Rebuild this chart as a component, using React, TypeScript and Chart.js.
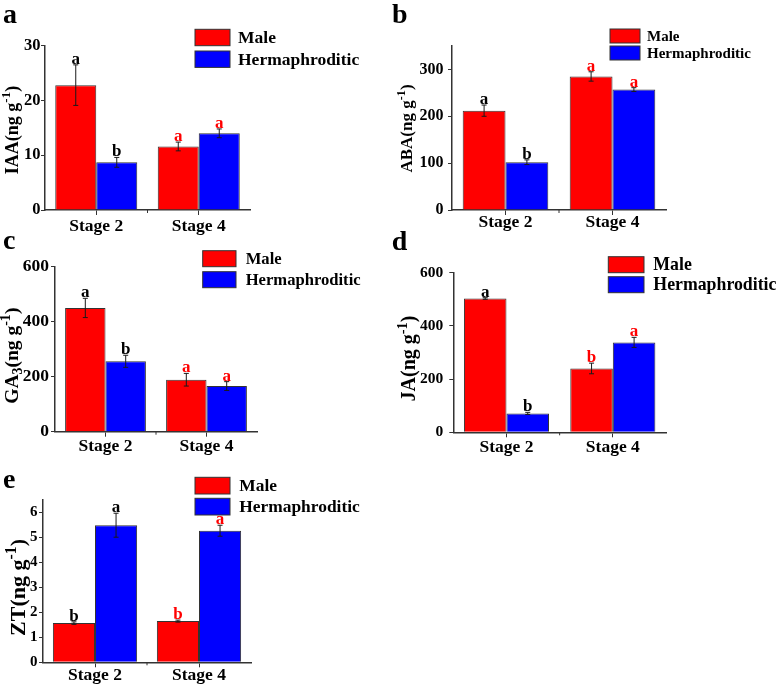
import React, { useEffect, useRef } from "react";
import { Chart, registerables } from "chart.js";

Chart.register(...registerables);

const FONT = '"Liberation Serif", "Times New Roman", serif';

const categories = ["Stage 2", "Stage 4"];
const seriesNames = ["Male", "Hermaphroditic"];
const seriesColors = ["#ff0000", "#0000ff"];
const letterColors = ["#000000", "#ff0000"];

// a: IAA
const iaaMale = [22.8, 11.6];
const iaaHerm = [8.7, 14.0];
const iaaMaleErr = [3.7, 0.8];
const iaaHermErr = [0.9, 0.8];
const iaaMaleLetters = ["a", "a"];
const iaaHermLetters = ["b", "a"];
const iaaTicks = [0, 10, 20, 30];

// b: ABA
const abaMale = [212, 285];
const abaHerm = [102, 257];
const abaMaleErr = [12, 10];
const abaHermErr = [5, 4];
const abaMaleLetters = ["a", "a"];
const abaHermLetters = ["b", "a"];
const abaTicks = [0, 100, 200, 300];

// c: GA3
const gaMale = [450, 189];
const gaHerm = [256, 166];
const gaMaleErr = [35, 23];
const gaHermErr = [22, 16];
const gaMaleLetters = ["a", "a"];
const gaHermLetters = ["b", "a"];
const gaTicks = [0, 200, 400, 600];

// d: JA
const jaMale = [503, 240];
const jaHerm = [71, 338];
const jaMaleErr = [3, 20];
const jaHermErr = [4, 19];
const jaMaleLetters = ["a", "b"];
const jaHermLetters = ["b", "a"];
const jaTicks = [0, 200, 400, 600];

// e: ZT
const ztMale = [1.57, 1.65];
const ztHerm = [5.49, 5.27];
const ztMaleErr = [0.05, 0.04];
const ztHermErr = [0.48, 0.22];
const ztMaleLetters = ["b", "b"];
const ztHermLetters = ["a", "a"];
const ztTicks = [0, 1, 2, 3, 4, 5, 6];

type Part = [string, string];

const panels = [
  {
    letter: "a", male: iaaMale, herm: iaaHerm, errs: [iaaMaleErr, iaaHermErr],
    letters: [iaaMaleLetters, iaaHermLetters], ticks: iaaTicks, max: 30,
    title: [["IAA(ng g", ""], ["-1", "sup"], [")", ""]] as Part[],
    box: { x: 0, y: 0, w: 390, h: 242 }, area: { l: 45, t: 45.7, r: 250, b: 210 },
    tickFont: 16.5, yPad: 0.5, xFont: 17.5, xPad: 1, titleFont: 18, titleX: 18, titleY: 130,
    legend: { x: 195, y: 29.3, w: 35, h: 16.4, step: 21.7, tx: 238, font: 17.5 },
    letterPos: { x: 3, y: 23 }, catPct: 0.8,
  },
  {
    letter: "b", male: abaMale, herm: abaHerm, errs: [abaMaleErr, abaHermErr],
    letters: [abaMaleLetters, abaHermLetters], ticks: abaTicks, max: 350,
    title: [["ABA(ng g", ""], ["-1", "sup"], [")", ""]] as Part[],
    box: { x: 390, y: 0, w: 388, h: 242 }, area: { l: 452, t: 46, r: 666, b: 210 },
    tickFont: 16, yPad: 4.5, xFont: 17.5, xPad: -3.5, titleFont: 17, titleX: 412, titleY: 128.5,
    legend: { x: 610, y: 29, w: 30, h: 14, step: 17, tx: 647, font: 15 },
    letterPos: { x: 392, y: 22.7 }, catPct: 0.8,
  },
  {
    letter: "c", male: gaMale, herm: gaHerm, errs: [gaMaleErr, gaHermErr],
    letters: [gaMaleLetters, gaHermLetters], ticks: gaTicks, max: 600,
    title: [["GA", ""], ["3", "sub"], ["(ng g", ""], ["-1", "sup"], [")", ""]] as Part[],
    box: { x: 0, y: 230, w: 390, h: 232 }, area: { l: 55, t: 266.7, r: 257, b: 431.7 },
    tickFont: 17.5, yPad: 2, xFont: 17.5, xPad: -1, titleFont: 19.5, titleX: 18, titleY: 355.7,
    legend: { x: 202.7, y: 250.7, w: 33.3, h: 16, step: 21, tx: 245.7, font: 16.6 },
    letterPos: { x: 3, y: 249.3 }, catPct: 0.8,
  },
  {
    letter: "d", male: jaMale, herm: jaHerm, errs: [jaMaleErr, jaHermErr],
    letters: [jaMaleLetters, jaHermLetters], ticks: jaTicks, max: 600,
    title: [["JA(ng g", ""], ["-1", "sup"], [")", ""]] as Part[],
    box: { x: 390, y: 230, w: 388, h: 232 }, area: { l: 453.3, t: 272.7, r: 666, b: 432.3 },
    tickFont: 15.5, yPad: 6, xFont: 17.5, xPad: -0.8, titleFont: 20, titleX: 415, titleY: 358.5,
    legend: { x: 608.3, y: 256.7, w: 35.7, h: 16, step: 20, tx: 653.3, font: 17.8 },
    letterPos: { x: 391.7, y: 250 }, catPct: 0.8,
  },
  {
    letter: "e", male: ztMale, herm: ztHerm, errs: [ztMaleErr, ztHermErr],
    letters: [ztMaleLetters, ztHermLetters], ticks: ztTicks, max: 6.5,
    title: [["ZT(ng g", ""], ["-1", "sup"], [")", ""]] as Part[],
    box: { x: 0, y: 460, w: 390, h: 226 }, area: { l: 43, t: 500, r: 251, b: 662.3 },
    tickFont: 15, yPad: 1.5, xFont: 17.5, xPad: -2.5, titleFont: 22, titleX: 25, titleY: 587.5,
    legend: { x: 195, y: 477.3, w: 35, h: 16.7, step: 21, tx: 239.3, font: 17.4 },
    letterPos: { x: 3, y: 488 }, catPct: 0.81,
  },
];

type PanelCfg = typeof panels[number];

function drawRotatedTitle(ctx: CanvasRenderingContext2D, parts: Part[], bx: number, cy: number, size: number) {
  ctx.save();
  ctx.translate(bx, cy);
  ctx.rotate(-Math.PI / 2);
  ctx.textAlign = "left";
  ctx.textBaseline = "alphabetic";
  ctx.fillStyle = "#000";
  let total = 0;
  const items = parts.map(([t, kind]) => {
    const s = kind ? size * 0.72 : size;
    ctx.font = `bold ${s}px ${FONT}`;
    const w = ctx.measureText(t).width;
    total += w;
    return { t, kind, s, w };
  });
  let x = -total / 2;
  for (const it of items) {
    ctx.font = `bold ${it.s}px ${FONT}`;
    const dy = it.kind === "sup" ? -size * 0.42 : it.kind === "sub" ? size * 0.2 : 0;
    ctx.fillText(it.t, x, dy);
    x += it.w;
  }
  ctx.restore();
}

function makeOverlay(p: PanelCfg) {
  return {
    id: "overlay" + p.letter,
    afterDatasetsDraw(chart: any) {
      const ctx: CanvasRenderingContext2D = chart.ctx;
      const ys = chart.scales.y;
      ctx.save();
      chart.data.datasets.forEach((ds: any, di: number) => {
        const meta = chart.getDatasetMeta(di);
        meta.data.forEach((bar: any, i: number) => {
          const v = ds.data[i];
          const e = p.errs[di][i];
          const x = bar.x;
          const yt = ys.getPixelForValue(v + e);
          const yb = ys.getPixelForValue(v - e);
          ctx.strokeStyle = "#1a1a1a";
          ctx.lineWidth = 1;
          ctx.beginPath();
          ctx.moveTo(x, yt);
          ctx.lineTo(x, yb);
          ctx.moveTo(x - 2.5, yt);
          ctx.lineTo(x + 2.5, yt);
          ctx.moveTo(x - 2.5, yb);
          ctx.lineTo(x + 2.5, yb);
          ctx.stroke();
          ctx.fillStyle = letterColors[i];
          ctx.font = `bold 17px ${FONT}`;
          ctx.textAlign = "center";
          ctx.textBaseline = "alphabetic";
          ctx.fillText(p.letters[di][i], x, yt - 1);
        });
      });
      ctx.restore();
    },
    afterDraw(chart: any) {
      const ctx: CanvasRenderingContext2D = chart.ctx;
      const ox = p.box.x;
      const oy = p.box.y;
      const xs = chart.scales.x;
      ctx.save();
      // minor tick between categories
      const mid = (xs.getPixelForValue(0) + xs.getPixelForValue(1)) / 2;
      const bottom = chart.chartArea.bottom;
      ctx.strokeStyle = "#333";
      ctx.lineWidth = 1;
      ctx.beginPath();
      ctx.moveTo(mid, bottom);
      ctx.lineTo(mid, bottom + 3);
      ctx.stroke();
      // panel letter
      ctx.fillStyle = "#000";
      ctx.font = `bold 28px ${FONT}`;
      ctx.textAlign = "left";
      ctx.textBaseline = "alphabetic";
      ctx.fillText(p.letter, p.letterPos.x - ox, p.letterPos.y - oy);
      // y title
      drawRotatedTitle(ctx, p.title, p.titleX - ox, p.titleY - oy, p.titleFont);
      // legend
      const lg = p.legend;
      seriesNames.forEach((name, k) => {
        const y = lg.y - oy + k * lg.step;
        ctx.fillStyle = seriesColors[k];
        ctx.fillRect(lg.x - ox, y, lg.w, lg.h);
        ctx.strokeStyle = "#333";
        ctx.lineWidth = 1;
        ctx.strokeRect(lg.x - ox, y, lg.w, lg.h);
        ctx.fillStyle = "#000";
        ctx.font = `bold ${lg.font}px ${FONT}`;
        ctx.textAlign = "left";
        ctx.textBaseline = "middle";
        ctx.fillText(name, lg.tx - ox, y + lg.h / 2 + 1);
      });
      ctx.restore();
    },
  };
}

function Panel({ p }: { p: PanelCfg }) {
  const ref = useRef<HTMLCanvasElement>(null);
  useEffect(() => {
    if (!ref.current) return;
    const yWidth = p.area.l - p.box.x;
    const xHeight = p.box.y + p.box.h - p.area.b;
    const chart = new Chart(ref.current, {
      type: "bar",
      data: {
        labels: categories,
        datasets: [
          {
            label: seriesNames[0], data: p.male, backgroundColor: seriesColors[0],
            borderColor: "#333", borderWidth: 1, categoryPercentage: p.catPct, barPercentage: 1,
          },
          {
            label: seriesNames[1], data: p.herm, backgroundColor: seriesColors[1],
            borderColor: "#333", borderWidth: 1, categoryPercentage: p.catPct, barPercentage: 1,
          },
        ],
      },
      options: {
        animation: false,
        responsive: false,
        devicePixelRatio: 1,
        layout: {
          padding: { left: 0, top: p.area.t - p.box.y, right: p.box.x + p.box.w - p.area.r, bottom: 0 },
        },
        plugins: { legend: { display: false }, tooltip: { enabled: false }, title: { display: false } },
        scales: {
          x: {
            type: "category",
            offset: true,
            grid: { display: true, drawOnChartArea: false, drawTicks: true, tickLength: 5, color: "#333", offset: false },
            border: { display: true, color: "#333", width: 1.5 },
            ticks: { color: "#000", padding: p.xPad, font: { family: FONT, weight: "bold", size: p.xFont } },
            afterFit: (s: any) => {
              s.height = xHeight;
              s.paddingLeft = 0;
              s.paddingRight = 0;
            },
          },
          y: {
            type: "linear",
            min: 0,
            max: p.max,
            grid: { display: true, drawOnChartArea: false, drawTicks: true, tickLength: 4, color: "#333" },
            border: { display: true, color: "#333", width: 1.5 },
            ticks: { color: "#000", padding: p.yPad, font: { family: FONT, weight: "bold", size: p.tickFont } },
            afterBuildTicks: (s: any) => {
              s.ticks = p.ticks.map((v) => ({ value: v }));
            },
            afterFit: (s: any) => {
              s.width = yWidth;
              s.paddingTop = 0;
              s.paddingBottom = 0;
            },
          },
        },
      } as any,
      plugins: [makeOverlay(p)],
    });
    return () => chart.destroy();
  }, []);
  return (
    <canvas
      ref={ref}
      width={p.box.w}
      height={p.box.h}
      style={{ position: "absolute", left: p.box.x, top: p.box.y, width: p.box.w, height: p.box.h }}
    />
  );
}

export default function App() {
  return (
    <div style={{ position: "absolute", left: 0, top: 0, width: 778, height: 686, background: "#fff", overflow: "hidden" }}>
      {panels.map((p) => (
        <Panel key={p.letter} p={p} />
      ))}
    </div>
  );
}
